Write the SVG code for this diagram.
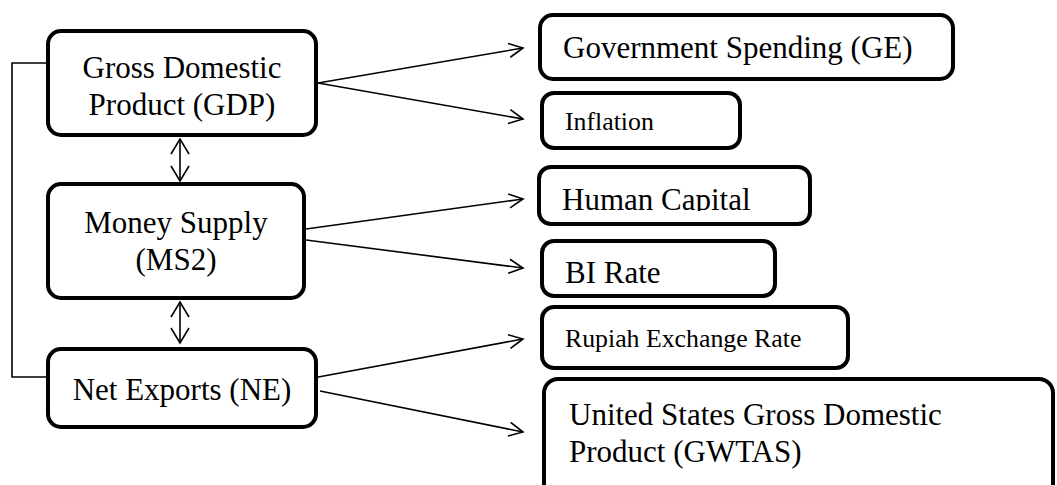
<svg xmlns="http://www.w3.org/2000/svg" width="1057" height="485" viewBox="0 0 1057 485">
  <style>
    .box { fill: #fff; stroke: #000; stroke-width: 4; }
    .lbl { font-family: "Liberation Serif", "Times New Roman", serif; fill: #000; font-size: 31px; }
    .sm { font-size: 25.8px; }
    .mid { text-anchor: middle; }
    .wire { fill: none; stroke: #000; stroke-width: 1.6; }
  </style>
  <defs>
    <marker id="head" markerUnits="userSpaceOnUse" markerWidth="20" markerHeight="20" refX="15" refY="8" orient="auto">
      <path d="M1,1 L15,8 L1,15" fill="none" stroke="#000" stroke-width="1.6"/>
    </marker>
    <marker id="vhead" markerUnits="userSpaceOnUse" markerWidth="22" markerHeight="22" refX="16" refY="10" orient="auto-start-reverse">
      <path d="M1,1 L16,10 L1,19" fill="none" stroke="#000" stroke-width="1.6"/>
    </marker>
    <clipPath id="clipHC"><rect x="540" y="160" width="280" height="51"/></clipPath>
    <clipPath id="clipBI"><rect x="540" y="235" width="240" height="48.5"/></clipPath>
  </defs>

  <g id="connectors">
    <polyline class="wire" points="46,63 12,63 12,377 46,377"/>
    <line class="wire" x1="180" y1="139" x2="180" y2="181" marker-start="url(#vhead)" marker-end="url(#vhead)"/>
    <line class="wire" x1="180" y1="302" x2="180" y2="343" marker-start="url(#vhead)" marker-end="url(#vhead)"/>
    <line class="wire" x1="318" y1="83" x2="523" y2="48" marker-end="url(#head)"/>
    <line class="wire" x1="318" y1="83" x2="523" y2="119" marker-end="url(#head)"/>
    <line class="wire" x1="306" y1="229" x2="523" y2="199" marker-end="url(#head)"/>
    <line class="wire" x1="306" y1="240" x2="523" y2="268" marker-end="url(#head)"/>
    <line class="wire" x1="313" y1="378" x2="523" y2="339" marker-end="url(#head)"/>
    <line class="wire" x1="320" y1="391" x2="523" y2="432" marker-end="url(#head)"/>
  </g>

  <g id="gdp">
    <rect class="box" x="48" y="31" width="268" height="104" rx="13"/>
    <text class="lbl mid" x="182" y="78">Gross Domestic</text>
    <text class="lbl mid" x="182" y="115">Product (GDP)</text>
  </g>

  <g id="money-supply">
    <rect class="box" x="48" y="184" width="256" height="114" rx="13"/>
    <text class="lbl mid" x="176" y="233">Money Supply</text>
    <text class="lbl mid" x="176" y="270">(MS2)</text>
  </g>

  <g id="net-exports">
    <rect class="box" x="48" y="349" width="268" height="78" rx="13"/>
    <text class="lbl mid" x="182" y="400">Net Exports (NE)</text>
  </g>

  <g id="gov-spending">
    <rect class="box" x="540" y="15" width="413" height="64" rx="13"/>
    <text class="lbl" x="563" y="58">Government Spending (GE)</text>
  </g>

  <g id="inflation">
    <rect class="box" x="542" y="93" width="198" height="55" rx="12"/>
    <text class="lbl sm" x="565" y="130">Inflation</text>
  </g>

  <g id="human-capital">
    <rect class="box" x="539" y="167" width="271" height="57" rx="12"/>
    <text class="lbl" x="562" y="210" clip-path="url(#clipHC)">Human Capital</text>
  </g>

  <g id="bi-rate">
    <rect class="box" x="542" y="241" width="233" height="55" rx="12"/>
    <text class="lbl" x="565" y="283" clip-path="url(#clipBI)">BI Rate</text>
  </g>

  <g id="rupiah">
    <rect class="box" x="542" y="307" width="306" height="61" rx="12"/>
    <text class="lbl sm" x="565" y="347">Rupiah Exchange Rate</text>
  </g>

  <g id="us-gdp">
    <rect class="box" x="544" y="379" width="509" height="130" rx="14"/>
    <text class="lbl" x="569" y="425">United States Gross Domestic</text>
    <text class="lbl" x="569" y="462">Product (GWTAS)</text>
  </g>
</svg>
